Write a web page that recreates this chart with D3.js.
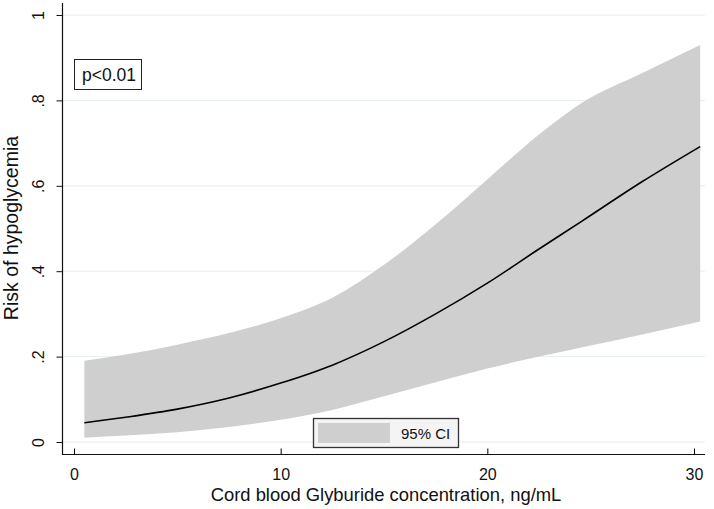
<!DOCTYPE html>
<html>
<head>
<meta charset="utf-8">
<script src="https://cdn.jsdelivr.net/npm/d3@7"></script>
<style>
  body { margin: 0; background: #fff; }
  text { font-family: "Liberation Sans", Arial, sans-serif; fill: #111; }
</style>
</head>
<body>
<div id="plot"></div>
<script>
// Data
let conc = [0.5, 2.5, 5, 7.5, 10, 12.5, 15, 17.5, 20, 22.5, 24.6, 27.5, 30.3]
let risk = [0.045, 0.058, 0.077, 0.103, 0.138, 0.18, 0.235, 0.30, 0.372, 0.452, 0.518, 0.61, 0.692]
let ciUpper = [0.19, 0.205, 0.228, 0.255, 0.29, 0.338, 0.415, 0.51, 0.615, 0.72, 0.795, 0.864, 0.93]
let ciLower = [0.01, 0.015, 0.023, 0.035, 0.052, 0.075, 0.107, 0.14, 0.172, 0.2, 0.222, 0.252, 0.282]
let xTicks = [0, 10, 20, 30]
let yTicks = [0, 0.2, 0.4, 0.6, 0.8, 1]
let yTickLabels = ['0', '.2', '.4', '.6', '.8', '1']

let W = 714, H = 509

let svg = d3.select('#plot')
  .append('svg')
  .attr('width', W)
  .attr('height', H)

let x = d3.scaleLinear().domain([0, 30]).range([74, 694])
let y = d3.scaleLinear().domain([0, 1]).range([442, 15])

let rows = conc.map(function(c, i){
  return {x: c, y: risk[i], lo: ciLower[i], hi: ciUpper[i]}
})

// gridlines
svg.append('g')
  .selectAll('line')
  .data(yTicks)
  .enter().append('line')
  .attr('x1', 63).attr('x2', 705)
  .attr('y1', function(d){ return y(d) })
  .attr('y2', function(d){ return y(d) })
  .style('stroke', '#e6eeee')
  .style('stroke-width', 1)

// CI band
let area = d3.area()
  .x(function(d){ return x(d.x) })
  .y0(function(d){ return y(d.lo) })
  .y1(function(d){ return y(d.hi) })
  .curve(d3.curveMonotoneX)

svg.append('path')
  .datum(rows)
  .attr('d', area)
  .style('fill', '#cfcfcf')

// fitted line
let line = d3.line()
  .x(function(d){ return x(d.x) })
  .y(function(d){ return y(d.y) })
  .curve(d3.curveMonotoneX)

svg.append('path')
  .datum(rows)
  .attr('d', line)
  .style('fill', 'none')
  .style('stroke', '#000')
  .style('stroke-width', 1.6)

// axes
let yAxis = d3.axisLeft(y)
  .tickValues(yTicks)
  .tickSize(6)
  .tickSizeOuter(0)
  .tickFormat(function(d, i){ return yTickLabels[i] })

let gy = svg.append('g')
  .attr('transform', 'translate(62.5,0)')
  .call(yAxis)
gy.select('.domain').attr('d', 'M0,3V454.5')
gy.selectAll('.tick line').style('stroke', '#111')
gy.selectAll('.tick text')
  .attr('x', 0).attr('dy', 0)
  .attr('transform', 'translate(-19,0) rotate(-90)')
  .style('text-anchor', 'middle')
  .style('font-size', '16px')

let xAxis = d3.axisBottom(x)
  .tickValues(xTicks)
  .tickSize(6)
  .tickSizeOuter(0)
  .tickFormat(d3.format('d'))

let gx = svg.append('g')
  .attr('transform', 'translate(0,454.5)')
  .call(xAxis)
gx.select('.domain').attr('d', 'M62,0H705')
gx.selectAll('.tick line').attr('y2', 6).attr('transform', 'translate(0,-6)')
gx.selectAll('.tick text')
  .attr('y', 14)
  .style('font-size', '16px')

svg.selectAll('.domain').style('stroke', '#111').style('stroke-width', 1.2)

// axis titles
svg.append('text')
  .attr('transform', 'translate(18,228) rotate(-90)')
  .style('text-anchor', 'middle')
  .style('font-size', '19.5px')
  .text('Risk of hypoglycemia')

svg.append('text')
  .attr('x', 386).attr('y', 501)
  .style('text-anchor', 'middle')
  .style('font-size', '18.4px')
  .text('Cord blood Glyburide concentration, ng/mL')

// p-value box
svg.append('rect')
  .attr('x', 74.5).attr('y', 59.5)
  .attr('width', 67).attr('height', 30)
  .style('fill', '#fff')
  .style('stroke', '#222')
  .style('stroke-width', 1)

svg.append('text')
  .attr('x', 109).attr('y', 81)
  .style('text-anchor', 'middle')
  .style('font-size', '17.5px')
  .text('p<0.01')

// legend
svg.append('rect')
  .attr('x', 313.5).attr('y', 418.5)
  .attr('width', 145).attr('height', 29)
  .style('fill', '#f4f4f4')
  .style('stroke', '#333')
  .style('stroke-width', 1.3)

svg.append('rect')
  .attr('x', 318).attr('y', 423)
  .attr('width', 72).attr('height', 20)
  .style('fill', '#cfcfcf')

svg.append('text')
  .attr('x', 401).attr('y', 439)
  .style('font-size', '15px')
  .text('95% CI')
</script>
</body>
</html>
